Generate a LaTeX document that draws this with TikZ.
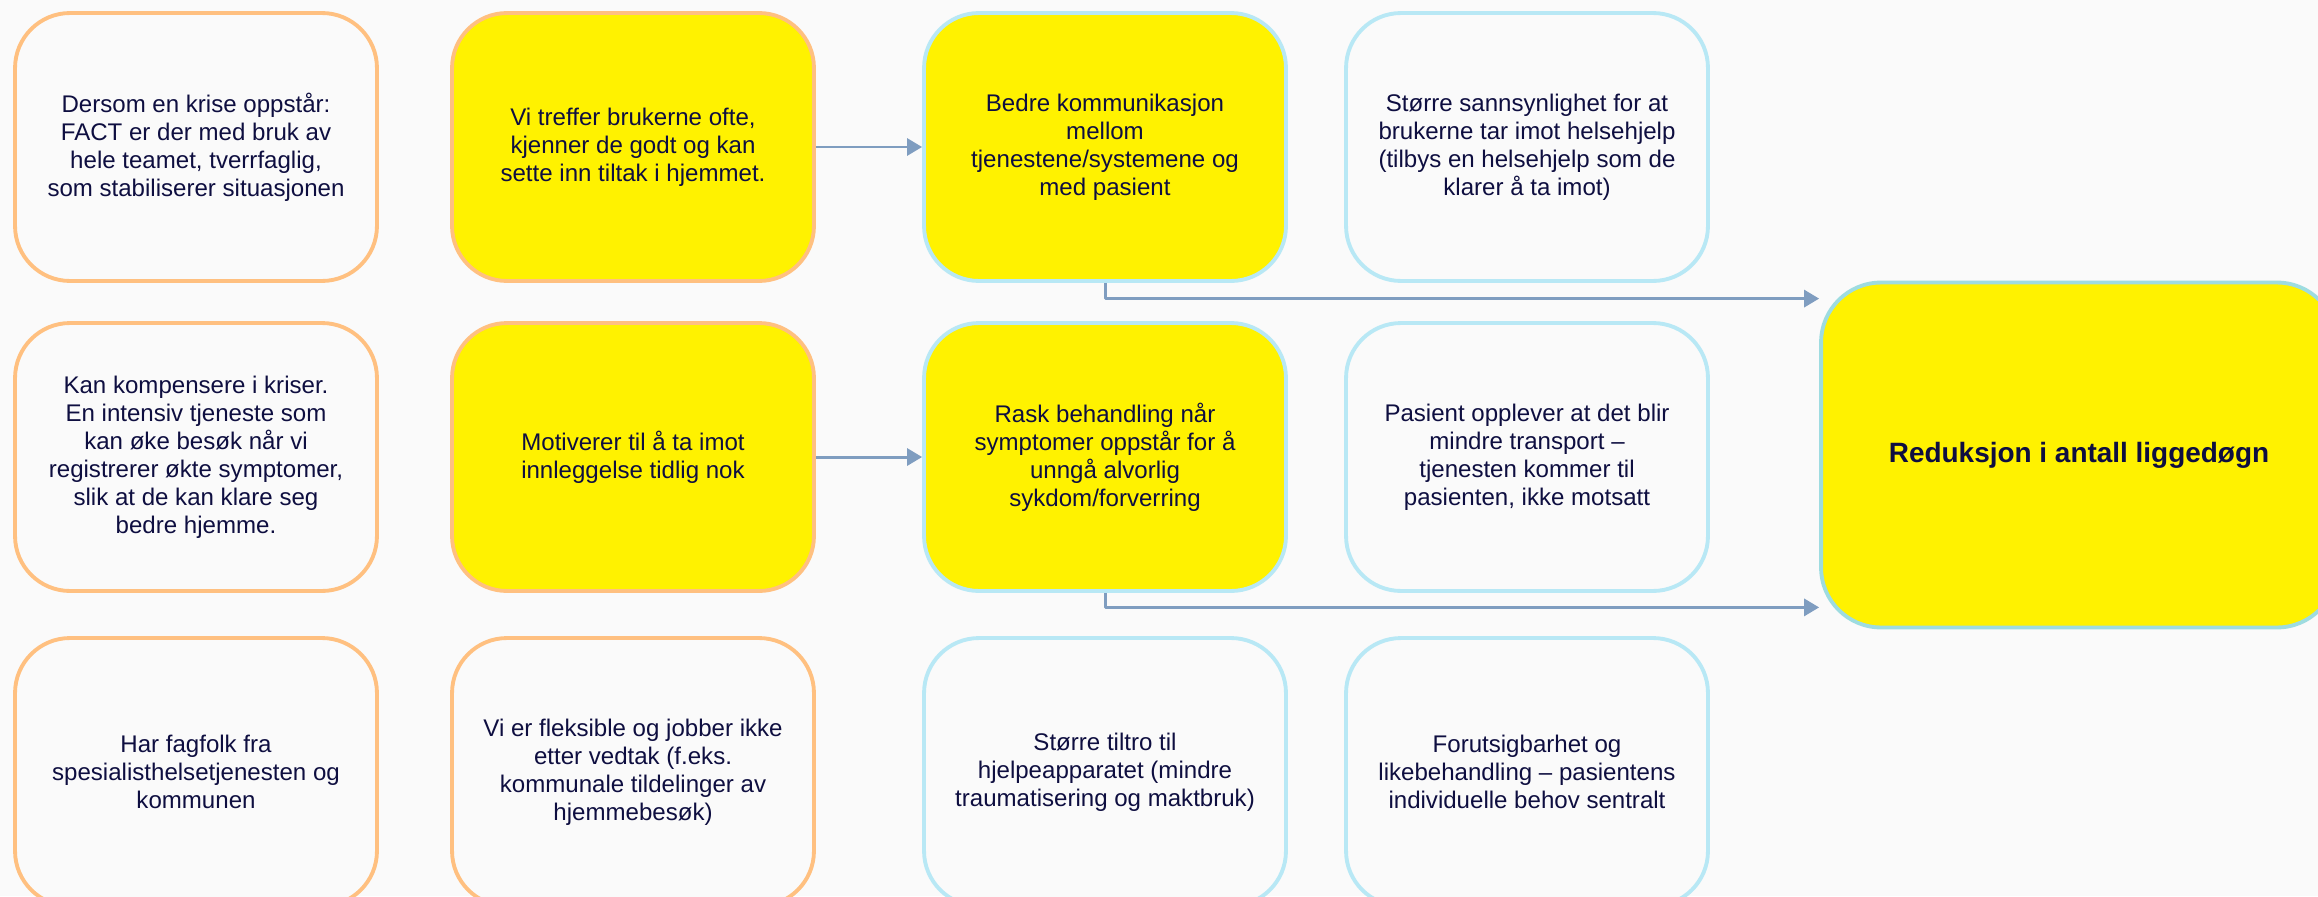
\documentclass[tikz,border=0pt]{standalone}
\usepackage{fontspec}
\setmainfont{Liberation Sans}
\usetikzlibrary{arrows.meta,positioning,calc}
\definecolor{bg}{HTML}{FAFAFA}
\definecolor{navy}{HTML}{0E0E40}
\definecolor{orangeline}{HTML}{FFC080}
\definecolor{blueline}{HTML}{B8E8F5}
\definecolor{tealline}{HTML}{9EDCE0}
\definecolor{arrowblue}{HTML}{7F9DC0}

\begin{document}
\begin{tikzpicture}[x=0.02cm, y=-0.02cm, line join=round,
  card/.style={draw, rounded corners=1.1cm, line width=2.2pt, fill=bg, minimum width=7.24cm, minimum height=5.36cm, align=center, text=navy, font=\fontsize{13.7}{15.9}\selectfont},
  orangecard/.style={card, draw=orangeline},
  bluecard/.style={card, draw=blueline},
  hot/.style={fill=yellow},
  link/.style={draw=arrowblue, line width=1.7pt, -{Triangle[length=0.3cm,width=0.34cm]}}]
\fill[bg] (0,0) rectangle (2318,896);
\useasboundingbox (0,0) rectangle (2318,896);
\node[orangecard]     (krise)     at (196,147)  {Dersom en krise oppstår:\\FACT er der med bruk av\\hele teamet, tverrfaglig,\\som stabiliserer situasjonen};
\node[orangecard,hot] (treffer)   at (633,147)  {Vi treffer brukerne ofte,\\kjenner de godt og kan\\sette inn tiltak i hjemmet.};
\node[bluecard,hot]   (kommunik)  at (1105,147) {Bedre kommunikasjon\\mellom\\tjenestene/systemene og\\med pasient};
\node[bluecard]       (sannsyn)   at (1527,147) {Større sannsynlighet for at\\brukerne tar imot helsehjelp\\(tilbys en helsehjelp som de\\klarer å ta imot)};
\node[orangecard]     (kompens)   at (196,457)  {Kan kompensere i kriser.\\En intensiv tjeneste som\\kan øke besøk når vi\\registrerer økte symptomer,\\slik at de kan klare seg\\bedre hjemme.};
\node[orangecard,hot] (motiverer) at (633,457)  {Motiverer til å ta imot\\innleggelse tidlig nok};
\node[bluecard,hot]   (rask)      at (1105,457) {Rask behandling når\\symptomer oppstår for å\\unngå alvorlig\\sykdom/forverring};
\node[bluecard]       (transport) at (1527,457) {Pasient opplever at det blir\\mindre transport –\\tjenesten kommer til\\pasienten, ikke motsatt};
\node[orangecard]     (fagfolk)   at (196,772)  {Har fagfolk fra\\spesialisthelsetjenesten og\\kommunen};
\node[orangecard]     (fleksible) at (633,772)  {Vi er fleksible og jobber ikke\\etter vedtak (f.eks.\\kommunale tildelinger av\\hjemmebesøk)};
\node[bluecard]       (tiltro)    at (1105,772) {Større tiltro til\\hjelpeapparatet (mindre\\traumatisering og maktbruk)};
\node[bluecard]       (forutsig)  at (1527,772) {Forutsigbarhet og\\likebehandling – pasientens\\individuelle behov sentralt};
\node[card, draw=tealline, hot, rounded corners=1.2cm, minimum width=10.32cm, minimum height=6.9cm, font=\fontsize{15.9}{18}\selectfont\bfseries] (reduksjon) at (2079,455) {Reduksjon i antall liggedøgn};
\draw[link] (treffer) -- (kommunik);
\draw[link] (motiverer) -- (rask);
\draw[link] (kommunik.south) |- ($(reduksjon.north west)+(0,18)$);
\draw[link] (rask.south) |- ($(reduksjon.south west)+(0,-22)$);
\end{tikzpicture}
\end{document}
